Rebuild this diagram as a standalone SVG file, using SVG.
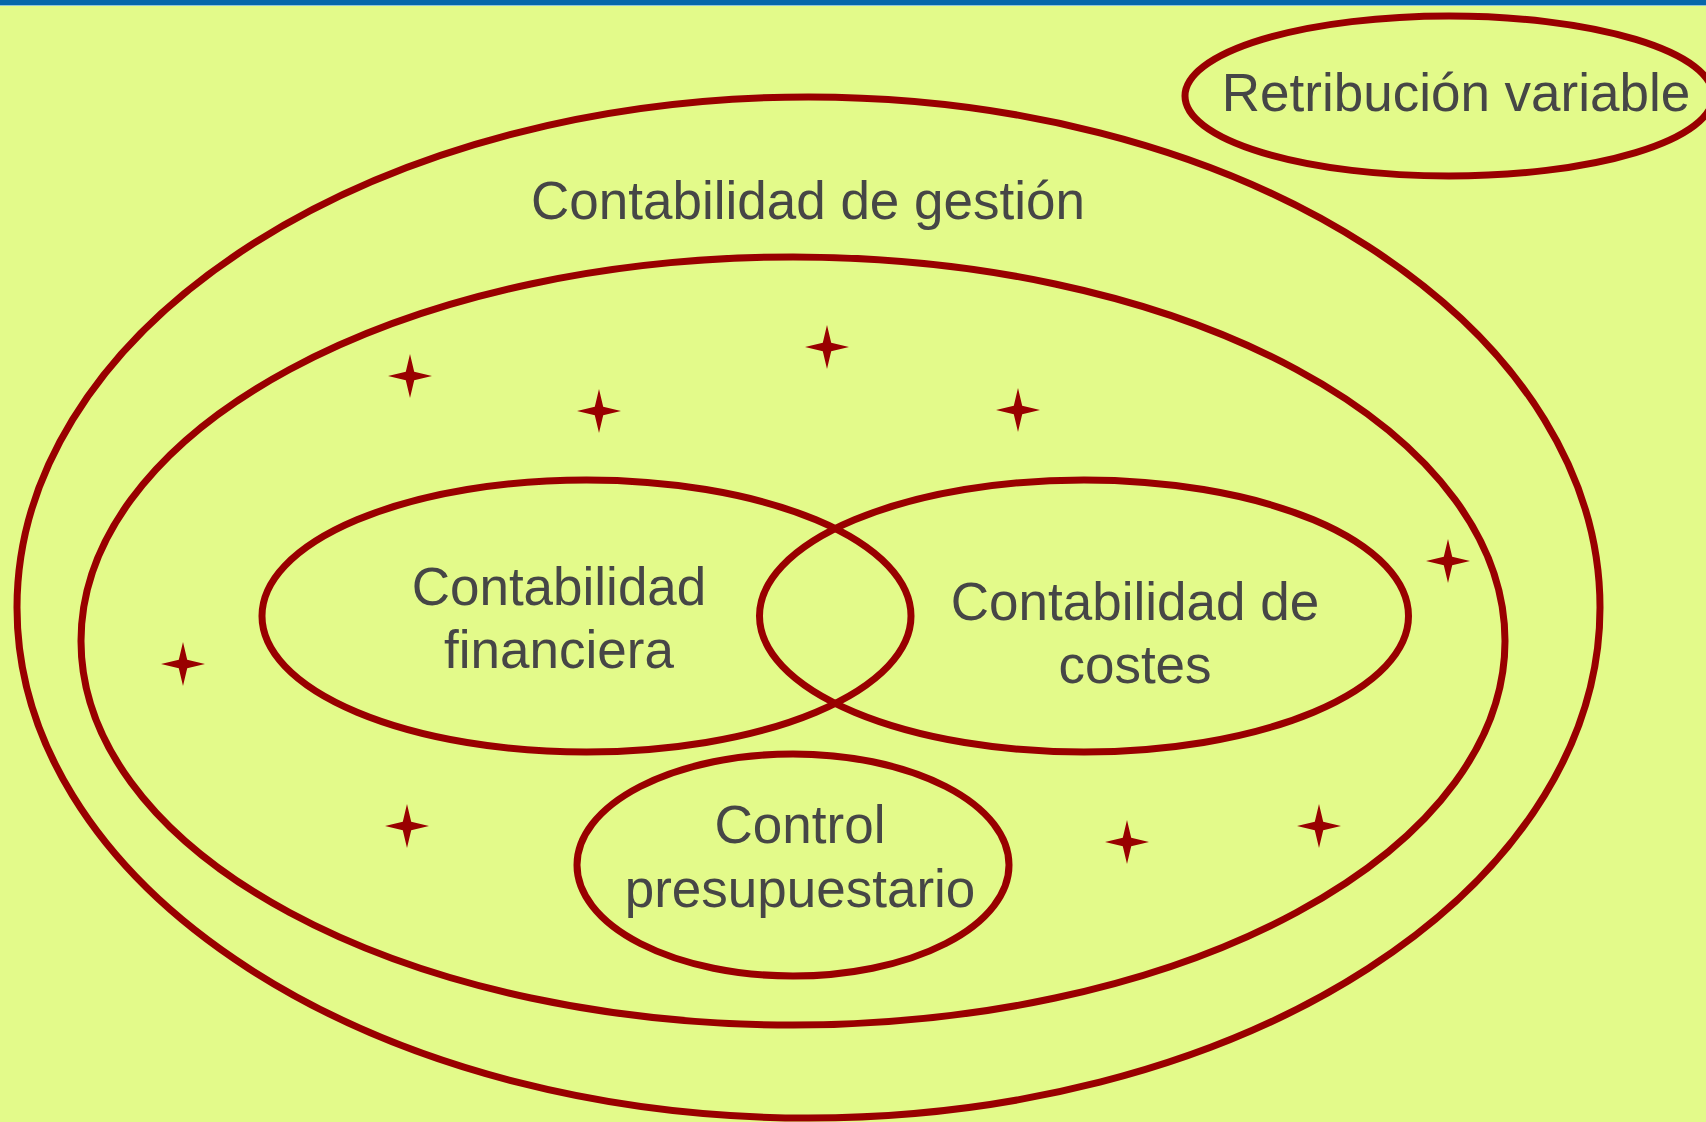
<svg xmlns="http://www.w3.org/2000/svg" width="1706" height="1122" viewBox="0 0 1706 1122">
<defs>
<style>
.ring{fill:none;stroke:#990000;stroke-width:7}
.lbl{font-family:"Liberation Sans",Arial,sans-serif;font-size:53px;fill:#464646;text-anchor:middle}
.star{fill:#990000}
</style>
<path id="st" d="M0,-22 L4.2,-4.2 L22,0 L4.2,4.2 L0,22 L-4.2,4.2 L-22,0 L-4.2,-4.2 Z"/>
</defs>
<rect x="0" y="0" width="1706" height="1122" fill="#E3FA8A"/>
<rect x="0" y="0" width="1706" height="5" fill="#0566AA"/>
<rect x="0" y="5" width="1706" height="1" fill="#8FC3D8"/>
<g id="retribucion">
<ellipse class="ring" cx="1449" cy="96" rx="264" ry="80"/>
<text class="lbl" x="1456" y="111">Retribución variable</text>
</g>
<g id="gestion">
<ellipse class="ring" cx="808.5" cy="607.5" rx="791.5" ry="510.5"/>
<text class="lbl" x="808" y="219">Contabilidad de gestión</text>
</g>
<g id="inner">
<ellipse class="ring" cx="793" cy="641" rx="712" ry="384"/>
</g>
<g id="financiera">
<ellipse class="ring" cx="586.5" cy="616" rx="324.5" ry="136"/>
<text class="lbl" x="559" y="605">Contabilidad</text>
<text class="lbl" x="559" y="668">financiera</text>
</g>
<g id="costes">
<ellipse class="ring" cx="1084" cy="616" rx="324.5" ry="136"/>
<text class="lbl" x="1135" y="620">Contabilidad de</text>
<text class="lbl" x="1135" y="683">costes</text>
</g>
<g id="control">
<ellipse class="ring" cx="793" cy="865" rx="216" ry="111"/>
<text class="lbl" x="800" y="843">Control</text>
<text class="lbl" x="800" y="907">presupuestario</text>
</g>
<g id="stars" class="star">
<use href="#st" x="410" y="376"/>
<use href="#st" x="599" y="411"/>
<use href="#st" x="827" y="347"/>
<use href="#st" x="1018" y="410"/>
<use href="#st" x="1448" y="561"/>
<use href="#st" x="183" y="664"/>
<use href="#st" x="407" y="826"/>
<use href="#st" x="1127" y="842"/>
<use href="#st" x="1319" y="826"/>
</g>
<g id="connectors"></g>
</svg>
